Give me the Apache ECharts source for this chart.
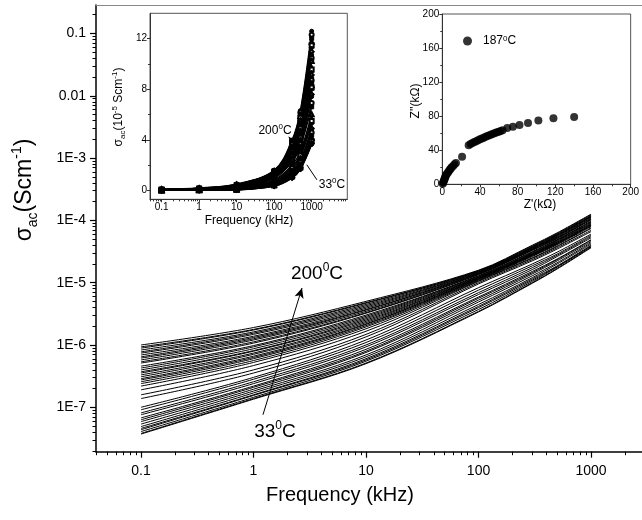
<!DOCTYPE html>
<html><head><meta charset="utf-8">
<script src="https://cdn.jsdelivr.net/npm/echarts@6/dist/echarts.min.js"></script>
<style>html,body{margin:0;padding:0;background:#fff}#c{width:642px;height:520px}</style>
</head><body><div id="c"></div>
<script>
// Frequencies (kHz) at which each curve is read
const freqKHz = [0.1, 1, 10, 100, 300, 500, 1000];
// log10 of sigma_ac (S/cm) for each temperature curve, highest temperature (200 C) first, 33 C last
const logSigmaAt0p1 = [-6.00,-6.03,-6.05,-6.08,-6.11,-6.13,-6.16,-6.19,-6.21,-6.24,-6.27,-6.29,-6.34,-6.37,-6.40,-6.43,-6.45,-6.48,-6.51,-6.54,-6.56,-6.59,-6.62,-6.66,-6.72,-6.80,-6.86,-7.00,-7.04,-7.09,-7.12,-7.17,-7.20,-7.23,-7.27,-7.31,-7.34,-7.36,-7.39,-7.42,-7.43];
const logSigmaAt1 = [-5.72,-5.75,-5.76,-5.79,-5.81,-5.83,-5.86,-5.88,-5.90,-5.92,-5.95,-5.97,-6.01,-6.03,-6.06,-6.09,-6.10,-6.13,-6.15,-6.18,-6.20,-6.22,-6.25,-6.28,-6.33,-6.40,-6.45,-6.52,-6.55,-6.59,-6.62,-6.66,-6.68,-6.71,-6.74,-6.77,-6.80,-6.81,-6.84,-6.86,-6.87];
const logSigmaAt10 = [-5.30,-5.32,-5.33,-5.35,-5.37,-5.39,-5.41,-5.43,-5.44,-5.46,-5.48,-5.49,-5.52,-5.54,-5.56,-5.58,-5.60,-5.62,-5.64,-5.66,-5.67,-5.69,-5.71,-5.74,-5.78,-5.83,-5.87,-5.92,-5.96,-6.00,-6.03,-6.07,-6.10,-6.12,-6.16,-6.19,-6.22,-6.24,-6.26,-6.29,-6.30];
const logSigmaAt100 = [-4.80,-4.81,-4.81,-4.82,-4.83,-4.83,-4.84,-4.85,-4.85,-4.86,-4.87,-4.87,-4.89,-4.89,-4.90,-4.91,-4.92,-4.92,-4.93,-4.94,-4.94,-4.95,-4.96,-4.97,-4.98,-5.00,-5.02,-5.08,-5.12,-5.16,-5.19,-5.23,-5.25,-5.28,-5.31,-5.35,-5.38,-5.40,-5.43,-5.46,-5.47];
const logSigmaAt300 = [-4.40,-4.41,-4.42,-4.43,-4.44,-4.44,-4.45,-4.46,-4.46,-4.47,-4.48,-4.48,-4.50,-4.51,-4.52,-4.53,-4.54,-4.54,-4.55,-4.56,-4.56,-4.57,-4.58,-4.60,-4.61,-4.63,-4.65,-4.70,-4.73,-4.76,-4.79,-4.82,-4.84,-4.86,-4.89,-4.92,-4.94,-4.96,-4.98,-5.00,-5.01];
const logSigmaAt500 = [-4.20,-4.21,-4.22,-4.23,-4.24,-4.24,-4.25,-4.26,-4.27,-4.28,-4.29,-4.29,-4.31,-4.31,-4.32,-4.33,-4.34,-4.35,-4.36,-4.37,-4.37,-4.38,-4.39,-4.41,-4.42,-4.44,-4.46,-4.51,-4.54,-4.56,-4.58,-4.62,-4.63,-4.65,-4.68,-4.70,-4.73,-4.74,-4.75,-4.77,-4.78];
const logSigmaAt1000 = [-3.90,-3.91,-3.92,-3.93,-3.94,-3.94,-3.95,-3.96,-3.97,-3.98,-3.99,-3.99,-4.01,-4.02,-4.03,-4.04,-4.05,-4.06,-4.07,-4.08,-4.08,-4.09,-4.10,-4.12,-4.13,-4.16,-4.18,-4.22,-4.24,-4.26,-4.28,-4.31,-4.32,-4.34,-4.36,-4.38,-4.40,-4.41,-4.42,-4.43,-4.44];
// Tick labels
const freqTickLabels = ['0.1','1','10','100','1000'];
const sigmaTickLabels = ['0.1','0.01','1E-3','1E-4','1E-5','1E-6','1E-7'];
const insetSigmaTicks = [0, 4, 8, 12];
// Nyquist plot at 187 C (kOhm)
const nyquistZre = [0.5,1,1.5,2,2.5,3,3.5,4,5,6,7,8,9,10,11.5,13,14.5,21,28,30,32,34,36,38,40,42,44,46,48,50,52,54,56,58,60,62,64,69,75,82,91,102,118,140];
const nyquistZim = [0.5,2,3.5,5,6.5,8,9.5,11,12.5,14,15.5,17,18.5,20,21.5,23.5,25,32.5,46,47.2,48.4,49.6,50.7,51.8,52.8,53.8,54.8,55.7,56.6,57.5,58.4,59.3,60.2,61.0,61.8,62.6,63.5,66,67.5,69.5,72,75,77.5,79];

const FONT = "'Liberation Sans', Arial, sans-serif";
const cols = [logSigmaAt0p1, logSigmaAt1, logSigmaAt10, logSigmaAt100, logSigmaAt300, logSigmaAt500, logSigmaAt1000];
const logF = freqKHz.map(f => Math.log10(f));

function logMinor(min, max) {
  const out = [];
  for (let n = -9; n <= 4; n++) for (let k = 2; k <= 9; k++) {
    const v = n + Math.log10(k);
    if (v > min + 1e-6 && v < max - 1e-6) out.push(v);
  }
  return out;
}
const MX = [-1.4, 3.453], MY = [-7.713, -0.543];
const IX = [-1.31, 3.95], IY = [-0.7, 14];

const chart = echarts.init(document.getElementById('c'), null, {renderer: 'canvas'});
const series = [];
const nCurves = logSigmaAt0p1.length;
for (let i = 0; i < nCurves; i++) {
  const s = {
    type: 'line', xAxisIndex: 0, yAxisIndex: 0, silent: true, smooth: 0.35,
    showSymbol: false, symbol: 'none',
    lineStyle: {color: '#000', width: 1},
    data: logF.map((x, k) => [x, cols[k][i]])
  };
  if (i === 0) {
    s.markLine = {silent: true, symbol: ['none', 'arrow'], symbolSize: [7, 10], label: {show: false},
      lineStyle: {color: '#000', width: 1, type: 'solid'},
      data: [[{coord: [0.084, -7.12]}, {coord: [0.431, -5.085]}]]};
  }
  series.push(s);
}
const insetSymbols = ['circle', 'emptyCircle', 'rect', 'emptyTriangle', 'triangle', 'emptyRect', 'diamond', 'emptyDiamond'];
for (let i = 0; i < nCurves; i++) {
  const s = {
    type: 'line', xAxisIndex: 3, yAxisIndex: 2, silent: true, smooth: 0.35,
    symbol: insetSymbols[i % insetSymbols.length], symbolSize: 4, showSymbol: true,
    lineStyle: {color: '#000', width: 1.4},
    itemStyle: {color: '#000', borderColor: '#000', borderWidth: 1},
    data: logF.map((x, k) => [x, Math.pow(10, cols[k][i] + 5)])
  };
  if (i === 0) {
    s.markLine = {silent: true, symbol: ['none', 'arrow'], symbolSize: [5, 7], label: {show: false},
      lineStyle: {color: '#000', width: 1, type: 'solid'},
      data: [[{coord: [2.74, 2.82]}, {coord: [2.39, 4.24], symbol: 'arrow'}],
             [{coord: [3.14, 0.84], symbol: 'none'}, {coord: [2.87, 2.03], symbol: 'none'}]]};
  }
  series.push(s);
}
series.push({
  type: 'scatter', name: '187°C', xAxisIndex: 5, yAxisIndex: 4, silent: true,
  symbol: 'circle', symbolSize: 8, itemStyle: {color: '#000'},
  data: nyquistZre.map((x, i) => [x, nyquistZim[i]])
});

const noLine = {show: false};
const rich = (big, small) => ({
  sub: {fontSize: small, fontFamily: FONT, verticalAlign: 'bottom', lineHeight: small, fill: '#000'},
  sup: {fontSize: small, fontFamily: FONT, verticalAlign: 'top', lineHeight: small, fill: '#000'}
});
function txt(x, y, text, size, small, rot) {
  return {type: 'text', x: x, y: y, rotation: rot || 0, z: 100, silent: true,
    style: {text: text, fontSize: size, fontFamily: FONT, fill: '#000', align: 'center', verticalAlign: 'middle',
      lineHeight: size * 1.3, rich: rich(size, small)}};
}

const option = {
  animation: false,
  backgroundColor: '#fff',
  grid: [
    {left: 96, top: 5, right: 0, bottom: 68.3},
    {left: 150, top: 13.3, width: 197.3, height: 186, show: true, backgroundColor: '#fff', borderColor: '#555', borderWidth: 1},
    {left: 442.3, top: 14, width: 194.4, height: 170.3, show: true, backgroundColor: '#fff', borderColor: '#555', borderWidth: 1}
  ],
  legend: {
    data: ['187°C'], left: 458, top: 30, icon: 'circle', itemWidth: 9, itemHeight: 9, itemGap: 0,
    formatter: () => '187{s|0}C',
    textStyle: {fontSize: 12, fontFamily: FONT, color: '#000', padding: [0, 0, 0, 6],
      rich: {s: {fontSize: 8, fontFamily: FONT, verticalAlign: 'top', lineHeight: 8}}}
  },
  xAxis: [
    {type: 'value', gridIndex: 0, min: MX[0], max: MX[1], position: 'bottom',
      axisLine: {show: true, onZero: false, lineStyle: {color: '#000', width: 1.5}},
      axisTick: {show: true, customValues: [-1, 0, 1, 2, 3], length: 6, lineStyle: {color: '#000', width: 1.2}},
      axisLabel: {customValues: [-1, 0, 1, 2, 3], formatter: v => freqTickLabels[Math.round(v) + 1], fontSize: 14, fontFamily: FONT, color: '#000', margin: 12},
      splitLine: noLine},
    {type: 'value', gridIndex: 0, min: MX[0], max: MX[1], position: 'bottom',
      axisLine: {show: false, onZero: false},
      axisTick: {show: true, customValues: logMinor(MX[0], MX[1]), length: 3.5, lineStyle: {color: '#000', width: 1}},
      axisLabel: {show: false}, splitLine: noLine},
    {type: 'value', gridIndex: 0, min: MX[0], max: MX[1], position: 'top',
      axisLine: {show: true, onZero: false, lineStyle: {color: '#888', width: 1}},
      axisTick: {show: false}, axisLabel: {show: false}, splitLine: noLine},
    {type: 'value', gridIndex: 1, min: IX[0], max: IX[1], position: 'bottom',
      axisLine: {show: true, onZero: false, lineStyle: {color: '#333', width: 1}},
      axisTick: {show: true, customValues: [-1, 0, 1, 2, 3], length: 3, lineStyle: {color: '#333'}},
      axisLabel: {customValues: [-1, 0, 1, 2, 3], formatter: v => freqTickLabels[Math.round(v) + 1], fontSize: 10, fontFamily: FONT, color: '#000', margin: 3},
      splitLine: noLine},
    {type: 'value', gridIndex: 1, min: IX[0], max: IX[1], position: 'bottom',
      axisLine: {show: false, onZero: false},
      axisTick: {show: true, customValues: logMinor(IX[0], IX[1]), length: 2, lineStyle: {color: '#333'}},
      axisLabel: {show: false}, splitLine: noLine},
    {type: 'value', gridIndex: 2, min: 0, max: 200, interval: 40, position: 'bottom',
      axisLine: {show: true, onZero: false, lineStyle: {color: '#333', width: 1}},
      axisTick: {show: true, length: 3, lineStyle: {color: '#333'}},
      minorTick: {show: true, splitNumber: 2, length: 2, lineStyle: {color: '#333'}},
      axisLabel: {fontSize: 10, fontFamily: FONT, color: '#000', margin: 3},
      splitLine: noLine, minorSplitLine: noLine}
  ],
  yAxis: [
    {type: 'value', gridIndex: 0, min: MY[0], max: MY[1], position: 'left',
      axisLine: {show: true, onZero: false, lineStyle: {color: '#000', width: 1.5}},
      axisTick: {show: true, customValues: [-1, -2, -3, -4, -5, -6, -7], length: 6, lineStyle: {color: '#000', width: 1.2}},
      axisLabel: {customValues: [-1, -2, -3, -4, -5, -6, -7], formatter: v => sigmaTickLabels[-Math.round(v) - 1], fontSize: 14, fontFamily: FONT, color: '#000', margin: 10},
      splitLine: noLine},
    {type: 'value', gridIndex: 0, min: MY[0], max: MY[1], position: 'left',
      axisLine: {show: false, onZero: false},
      axisTick: {show: true, customValues: logMinor(MY[0], MY[1]), length: 3.5, lineStyle: {color: '#000', width: 1}},
      axisLabel: {show: false}, splitLine: noLine},
    {type: 'value', gridIndex: 1, min: IY[0], max: IY[1], position: 'left',
      axisLine: {show: true, onZero: false, lineStyle: {color: '#333', width: 1}},
      axisTick: {show: true, customValues: insetSigmaTicks, length: 3, lineStyle: {color: '#333'}},
      axisLabel: {customValues: insetSigmaTicks, fontSize: 10, fontFamily: FONT, color: '#000', margin: 3},
      splitLine: noLine},
    {type: 'value', gridIndex: 1, min: IY[0], max: IY[1], position: 'left',
      axisLine: {show: false, onZero: false},
      axisTick: {show: true, customValues: [2, 6, 10], length: 2, lineStyle: {color: '#333'}},
      axisLabel: {show: false}, splitLine: noLine},
    {type: 'value', gridIndex: 2, min: 0, max: 200, interval: 40, position: 'left',
      axisLine: {show: true, onZero: false, lineStyle: {color: '#333', width: 1}},
      axisTick: {show: true, length: 3, lineStyle: {color: '#333'}},
      minorTick: {show: true, splitNumber: 2, length: 2, lineStyle: {color: '#333'}},
      axisLabel: {fontSize: 10, fontFamily: FONT, color: '#000', margin: 3},
      splitLine: noLine, minorSplitLine: noLine}
  ],
  graphic: [
    txt(25, 190, 'σ{sub|ac}(Scm{sup|-1})', 23, 14, Math.PI / 2),
    txt(340, 495, 'Frequency (kHz)', 20, 12),
    txt(317, 274, '200{sup|0}C', 19, 12),
    txt(275, 432, '33{sup|0}C', 19, 12),
    txt(119, 107, 'σ{sub|ac}(10{sup|-5} Scm{sup|-1})', 12, 8, Math.PI / 2),
    txt(249, 221, 'Frequency (kHz)', 12, 8),
    txt(275, 131, '200{sup|0}C', 12, 8),
    txt(332, 185, '33{sup|0}C', 12, 8),
    txt(416, 101, "Z''(kΩ)", 12, 8, Math.PI / 2),
    txt(540, 205, "Z'(kΩ)", 12, 8)
  ],
  series: series
};
chart.setOption(option);
</script></body></html>
